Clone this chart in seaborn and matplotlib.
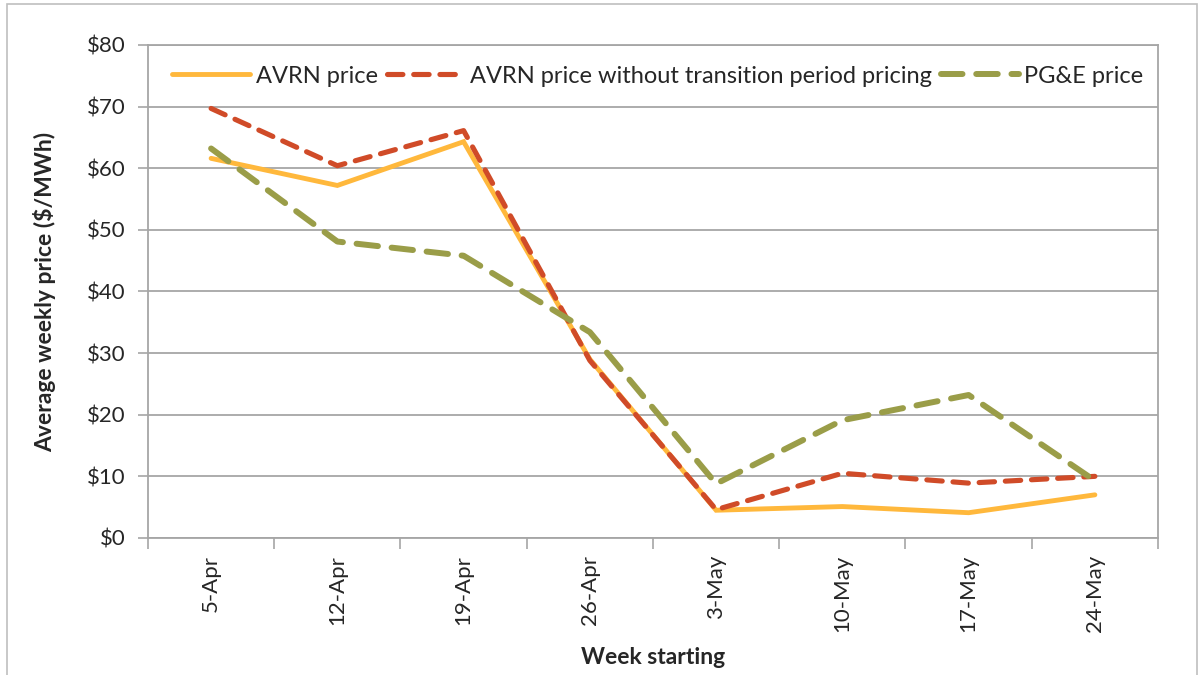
import pandas as pd
import seaborn as sns
import matplotlib.pyplot as plt
from matplotlib.patches import Rectangle

# values
weeks = ['5-Apr', '12-Apr', '19-Apr', '26-Apr', '3-May', '10-May', '17-May', '24-May']
avrn = [61.6, 57.2, 64.3, 29.0, 4.5, 5.1, 4.1, 7.0]
avrn_no_transition = [69.7, 60.4, 66.1, 28.8, 4.6, 10.5, 8.9, 10.0]
pge = [63.2, 48.1, 45.8, 33.4, 8.8, 19.1, 23.2, 9.3]
series_names = ['AVRN price', 'AVRN price without transition period pricing', 'PG&E price']

df = pd.DataFrame({
    'week': weeks * 3,
    'price': avrn + avrn_no_transition + pge,
    'series': [series_names[0]] * 8 + [series_names[1]] * 8 + [series_names[2]] * 8,
})

palette = {series_names[0]: '#FFB83C', series_names[1]: '#D04B28', series_names[2]: '#9A9D48'}
dashes = {series_names[0]: '', series_names[1]: (3.0, 2.1), series_names[2]: (3.6, 2.3)}

sns.set_style('white')
plt.rcParams['font.family'] = ['Lato', 'DejaVu Sans']

fig = plt.figure(figsize=(12.03, 6.75), dpi=100)
ax = fig.add_axes([0.123, 0.203, 0.8396, 0.7304])

sns.lineplot(data=df, x='week', y='price', hue='series', style='series',
             palette=palette, dashes=dashes, sort=False, ax=ax, legend=False)

widths = [3.5, 3.7, 4.3]
for line, w in zip(ax.get_lines(), widths):
    line.set_linewidth(w)
    line.set_dash_capstyle('round')
    line.set_solid_capstyle('round')
    line.set_solid_joinstyle('miter')

ax.set_ylim(0, 80)
ax.set_xlim(-0.5, len(weeks) - 0.5)
ax.set_yticks(range(0, 81, 10))
ax.set_yticklabels([f'${v}' for v in range(0, 81, 10)], fontsize=16)
ax.set_xticks(range(len(weeks)))
ax.set_xticklabels(weeks, rotation=90, fontsize=16)
ax.set_xticks([i - 0.5 for i in range(len(weeks) + 1)], minor=True)
ax.tick_params(axis='x', which='major', length=0, pad=12)
ax.tick_params(axis='x', which='minor', length=8, color='#A6A6A6', width=1.2, direction='out')
ax.tick_params(axis='y', length=7, color='#A6A6A6', width=1.2, direction='out', pad=9)
ax.xaxis.set_ticks_position('bottom')
ax.yaxis.set_ticks_position('left')

ax.grid(axis='y', color='#A6A6A6', linewidth=1.3)
ax.set_axisbelow(True)
for s in ax.spines.values():
    s.set_color('#A6A6A6')
    s.set_linewidth(1.3)

ax.set_xlabel('Week starting', fontsize=16.5, fontweight='bold', labelpad=11)
ax.set_ylabel('Average weekly price ($/MWh)', fontsize=16.5, fontweight='bold', labelpad=22)

ax.legend(ax.get_lines(), series_names, loc='center', bbox_to_anchor=(0.505, 0.937),
          ncol=3, frameon=False, fontsize=17, handlelength=3.3, handletextpad=0.25,
          columnspacing=0.35)

# outer chart border
fig.patches.append(Rectangle((7 / 1203, -0.01), 1190 / 1203, 1 - 4 / 675 + 0.01,
                             transform=fig.transFigure, fill=False,
                             edgecolor='#BFBFBF', linewidth=1.2))

fig.savefig('out.png', dpi=100)
